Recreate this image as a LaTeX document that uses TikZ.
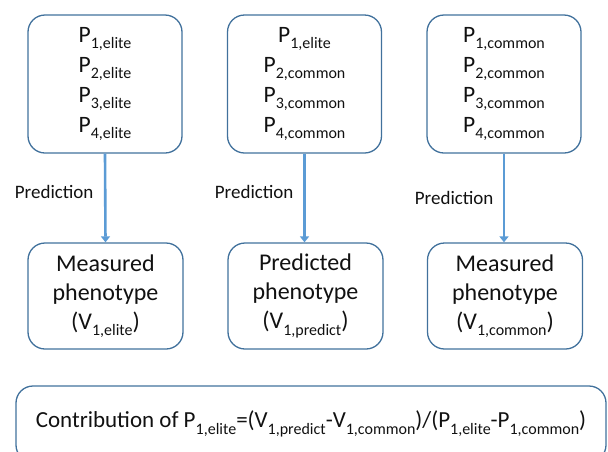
\documentclass[tikz,border=0pt]{standalone}
\usepackage{fontspec}
\setmainfont{Carlito}
\usepackage{tikz}
\usetikzlibrary{arrows.meta}
\definecolor{boxline}{HTML}{41719C}
\definecolor{arrowblue}{HTML}{5B9BD5}
\definecolor{ink}{HTML}{111111}
\newcommand{\sub}[1]{\raisebox{-6.5pt}{\fontsize{16}{16}\selectfont #1}}
\tikzset{
  genoBox/.style={draw=boxline, line width=1.3pt, rounded corners=17pt,
    minimum width=154pt, minimum height=138pt, align=center, text=ink,
    font=\fontsize{23.5}{30}\selectfont},
  phenoBox/.style={draw=boxline, line width=1.3pt, rounded corners=17pt,
    minimum width=155pt, minimum height=106pt, align=center, text=ink,
    font=\fontsize{24}{29}\selectfont},
  predArrow/.style={draw=arrowblue, line width=2.6pt,
    -{Triangle[width=9pt,length=6pt]}},
  predLabel/.style={text=ink, font=\fontsize{19}{20}\selectfont, anchor=east},
  formulaBox/.style={draw=boxline, line width=1.3pt, rounded corners=17pt,
    minimum width=590pt, minimum height=76pt, text=ink,
    font=\fontsize{23}{24}\selectfont}
}

\begin{document}
\begin{tikzpicture}[x=1pt,y=-1pt]
  \useasboundingbox (0,0) rectangle (608,451);
  \clip (0,0) rectangle (608,451);

  \node[genoBox] (genoElite) at (105,84)
    {P\sub{1,elite}\\P\sub{2,elite}\\P\sub{3,elite}\\P\sub{4,elite}};
  \node[genoBox] (genoMix) at (304.5,84)
    {P\sub{1,elite}\\P\sub{2,common}\\P\sub{3,common}\\P\sub{4,common}};
  \node[genoBox] (genoCommon) at (504,84)
    {P\sub{1,common}\\P\sub{2,common}\\P\sub{3,common}\\P\sub{4,common}};

  \node[phenoBox] (phenoElite) at (105.5,296)
    {Measured\\phenotype\\(V\sub{1,elite})};
  \node[phenoBox] (phenoPredict) at (305.5,296)
    {Predicted\\phenotype\\(V\sub{1,predict})};
  \node[phenoBox] (phenoCommon) at (505,296)
    {Measured\\phenotype\\(V\sub{1,common})};

  \draw[predArrow] (genoElite.south) -- (phenoElite.north);
  \draw[predArrow] (genoMix.south) -- (genoMix.south |- phenoPredict.north);
  \draw[predArrow] (genoCommon.south) -- (genoCommon.south |- phenoCommon.north);

  \node[predLabel] (labElite) at (97,192) {Prediction};
  \node[predLabel] (labMix) at (297,192) {Prediction};
  \node[predLabel] (labCommon) at (497,198) {Prediction};

  \node[formulaBox] (contrib) at (311,424)
    {Contribution of P\sub{1,elite}=(V\sub{1,predict}-V\sub{1,common})/(P\sub{1,elite}-P\sub{1,common})};
\end{tikzpicture}
\end{document}
